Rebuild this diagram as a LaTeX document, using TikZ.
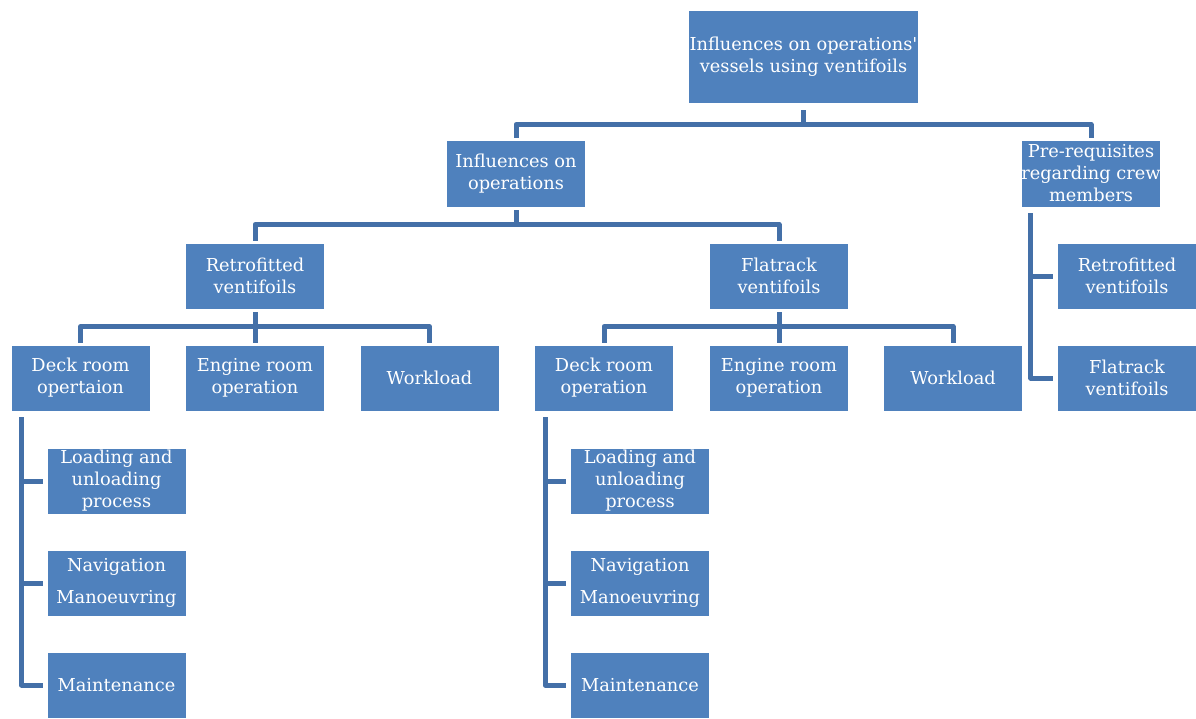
\documentclass[tikz,border=0pt]{standalone}
\usepackage{fontspec}
\setmainfont{DejaVu Serif}[Ligatures=TeXOff]
\definecolor{boxblue}{HTML}{4F81BD}
\definecolor{lineblue}{HTML}{4470A8}
\tikzset{
  box/.style={rectangle, fill=boxblue, draw=white, line width=0.8pt, text=white, align=center,
    inner sep=0pt, minimum width=139pt, minimum height=66pt, font=\fontsize{17.8}{22}\selectfont},
  conn/.style={draw=lineblue, line width=5pt, line join=round}
}
\begin{document}
\begin{tikzpicture}[x=1pt,y=-1pt]
\useasboundingbox (0,0) rectangle (1196,718);
% nodes
\node[box, minimum width=230pt, minimum height=93pt] (top) at (803.5,56.5) {Influences on operations'\\vessels using ventifoils};
\node[box, minimum height=67pt] (io) at (516,173.5) {Influences on\\operations};
\node[box, minimum height=67pt] (pre) at (1091,173.5) {Pre-requisites\\regarding crew\\members};
\node[box] (retro) at (255,276) {Retrofitted\\ventifoils};
\node[box] (flat) at (779,276) {Flatrack\\ventifoils};
\node[box] (deckL) at (80.5,378) {Deck room\\opertaion};
\node[box] (engL) at (255,378) {Engine room\\operation};
\node[box] (workL) at (429.5,378) {Workload};
\node[box] (deckR) at (604,378) {Deck room\\operation};
\node[box] (engR) at (779,378) {Engine room\\operation};
\node[box] (workR) at (953,378) {Workload};
\node[box] (loadL) at (116.5,481) {Loading and\\unloading\\process};
\node[box] (navL) at (116.5,583) {Navigation\\[10pt]Manoeuvring};
\node[box] (maintL) at (116.5,685) {Maintenance};
\node[box] (loadR) at (640,481) {Loading and\\unloading\\process};
\node[box] (navR) at (640,583) {Navigation\\[10pt]Manoeuvring};
\node[box] (maintR) at (640,685) {Maintenance};
\node[box] (retroR) at (1127,276) {Retrofitted\\ventifoils};
\node[box] (flatR) at (1127,378) {Flatrack\\ventifoils};
% connectors level 1
\draw[conn] ([yshift=-7pt]top.south) |- ([yshift=15pt]io.north) -- ([yshift=2pt]io.north);
\draw[conn] ([yshift=-7pt]top.south) |- ([yshift=15pt]pre.north) -- ([yshift=2pt]pre.north);
% level 2
\draw[conn] ([yshift=-3pt]io.south) |- ([yshift=18pt]retro.north) -- ([yshift=2pt]retro.north);
\draw[conn] ([yshift=-3pt]io.south) |- ([yshift=18pt]flat.north) -- ([yshift=2pt]flat.north);
% level 3 left
\draw[conn] ([yshift=-3pt]retro.south) |- ([yshift=18pt]deckL.north) -- ([yshift=2pt]deckL.north);
\draw[conn] ([yshift=-3pt]retro.south) -- ([yshift=2pt]engL.north);
\draw[conn] ([yshift=18pt]engL.north) -| ([yshift=2pt]workL.north);
% level 3 right
\draw[conn] ([yshift=-3pt]flat.south) |- ([yshift=18pt]deckR.north) -- ([yshift=2pt]deckR.north);
\draw[conn] ([yshift=-3pt]flat.south) -- ([yshift=2pt]engR.north);
\draw[conn] ([yshift=18pt]engR.north) -| ([yshift=2pt]workR.north);
% vertical trees
\coordinate (vL) at ([xshift=11pt,yshift=-6pt]deckL.south west);
\draw[conn] (vL) |- ([xshift=-4pt]maintL.west);
\draw[conn] (vL |- loadL.west) -- ([xshift=-4pt]loadL.west);
\draw[conn] (vL |- navL.west) -- ([xshift=-4pt]navL.west);
\coordinate (vR) at ([xshift=11pt,yshift=-6pt]deckR.south west);
\draw[conn] (vR) |- ([xshift=-4pt]maintR.west);
\draw[conn] (vR |- loadR.west) -- ([xshift=-4pt]loadR.west);
\draw[conn] (vR |- navR.west) -- ([xshift=-4pt]navR.west);
\coordinate (vP) at ([xshift=10pt,yshift=-6pt]pre.south west);
\draw[conn] (vP) |- ([xshift=-4pt]flatR.west);
\draw[conn] (vP |- retroR.west) -- ([xshift=-4pt]retroR.west);
\end{tikzpicture}
\end{document}
